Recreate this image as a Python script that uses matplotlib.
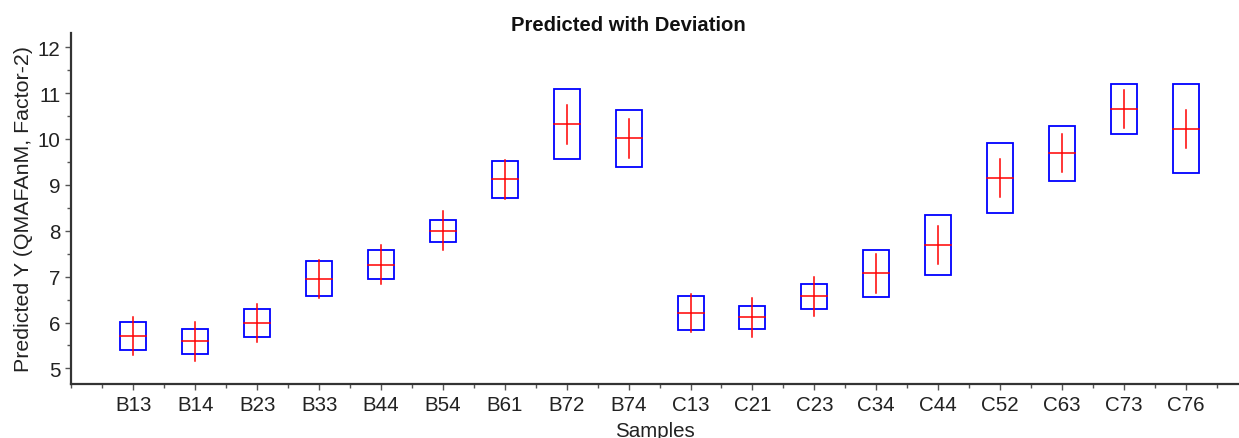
import matplotlib
matplotlib.use("Agg")
import matplotlib.pyplot as plt
from matplotlib.patches import Rectangle
from matplotlib.ticker import MultipleLocator
import numpy as np

# Samples and model output
samples = ["B13", "B14", "B23", "B33", "B44", "B54", "B61", "B72", "B74",
           "C13", "C21", "C23", "C34", "C44", "C52", "C63", "C73", "C76"]
predicted = [5.71, 5.59, 5.99, 6.95, 7.26, 8.00, 9.12, 10.32, 10.01,
             6.21, 6.11, 6.57, 7.07, 7.69, 9.15, 9.69, 10.65, 10.22]
deviation = [0.31, 0.27, 0.31, 0.38, 0.31, 0.24, 0.40, 0.76, 0.62,
             0.37, 0.26, 0.27, 0.51, 0.66, 0.76, 0.60, 0.54, 0.97]
cross_half = 0.42  # half-length of the red vertical bar

plt.rcParams["font.family"] = ["Liberation Sans", "DejaVu Sans"]

fig = plt.figure(figsize=(12.39, 4.39), dpi=100)
ax = fig.add_axes([0.0577, 0.123, 0.9423, 0.7997])

half_w = 0.21
x = np.arange(len(samples))
for xi, p, d in zip(x, predicted, deviation):
    ax.add_patch(Rectangle((xi - half_w, p - d), 2 * half_w, 2 * d,
                           fill=False, edgecolor="#0000ff", lw=1.3, zorder=2))
    ax.plot([xi - half_w, xi + half_w], [p, p], color="#ff0000", lw=1.1, zorder=3)
    ax.plot([xi, xi], [p - cross_half, p + cross_half], color="#ff0000", lw=1.1, zorder=3)

ax.set_xlim(-1, 17.86)
ax.set_ylim(4.66, 12.31)

ax.set_xticks(x)
ax.set_xticklabels(samples)
ax.xaxis.set_minor_locator(MultipleLocator(0.5))
ax.yaxis.set_major_locator(MultipleLocator(1))
ax.yaxis.set_minor_locator(MultipleLocator(0.5))

for s in ["top", "right"]:
    ax.spines[s].set_visible(False)
for s in ["left", "bottom"]:
    ax.spines[s].set_color("#333333")
    ax.spines[s].set_linewidth(1.6)

ax.tick_params(axis="both", which="both", direction="out", color="#555555",
               width=1.0, labelsize=14.8, labelcolor="#222222")
ax.tick_params(axis="both", which="major", length=4)
ax.tick_params(axis="both", which="minor", length=3)
ax.tick_params(axis="x", which="major", pad=4)
ax.tick_params(axis="y", which="major", pad=4)

ax.set_xlabel("Samples", fontsize=14.8, color="#222222", labelpad=5)
ax.set_ylabel("Predicted Y (QMAFAnM, Factor-2)", fontsize=15.4, color="#222222", labelpad=3)
fig.text(0.507, 0.941, "Predicted with Deviation", ha="center", va="center",
         fontsize=14.6, fontweight="bold", color="#111111")

fig.savefig("out.png", dpi=100)
